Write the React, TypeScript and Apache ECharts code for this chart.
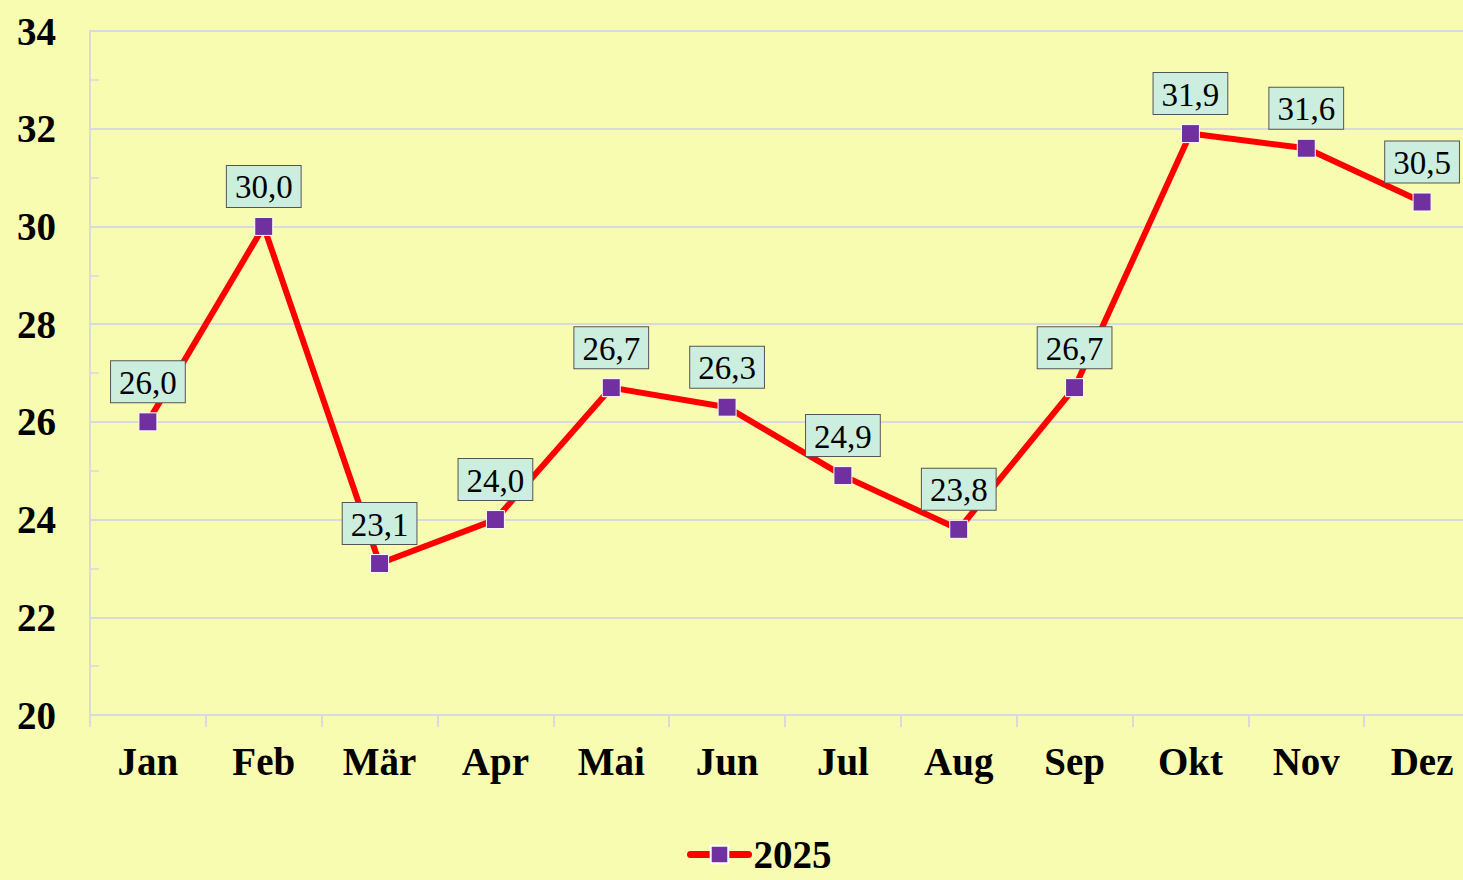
import React, { useEffect, useRef } from "react";
import * as echarts from "echarts";

const months = ["Jan", "Feb", "Mär", "Apr", "Mai", "Jun", "Jul", "Aug", "Sep", "Okt", "Nov", "Dez"];
const values2025 = [26.0, 30.0, 23.1, 24.0, 26.7, 26.3, 24.9, 23.8, 26.7, 31.9, 31.6, 30.5];
const seriesName = "2025";
const yMin = 20;
const yMax = 34;
const yInterval = 2;

const serif = "'Liberation Serif', 'Times New Roman', serif";

export default function App() {
  const ref = useRef<HTMLDivElement>(null);
  useEffect(() => {
    if (!ref.current) return;
    const chart = echarts.init(ref.current, undefined, { renderer: "svg" });
    chart.setOption({
      animation: false,
      backgroundColor: "#F8FCB0",
      grid: { left: 90, top: 31, height: 684, width: 1390, outerBoundsMode: "none" },
      legend: {
        left: 687,
        top: 835,
        padding: 0,
        itemWidth: 58,
        itemHeight: 22,
        itemGap: 4,
        data: [seriesName],
        lineStyle: { width: 7, cap: "round" },
        textStyle: { fontFamily: serif, fontWeight: "bold", fontSize: 39, color: "#000" },
      },
      xAxis: {
        type: "category",
        data: months,
        boundaryGap: true,
        axisLine: { show: true, lineStyle: { color: "#D9D9E0", width: 2 } },
        axisTick: { show: true, length: 12, lineStyle: { color: "#D9D9E0", width: 2 } },
        axisLabel: {
          margin: 27,
          fontFamily: serif,
          fontWeight: "bold",
          fontSize: 39,
          color: "#000",
        },
        splitLine: { show: false },
      },
      yAxis: {
        type: "value",
        min: yMin,
        max: yMax,
        interval: yInterval,
        axisLine: { show: true, lineStyle: { color: "#D9D9E0", width: 2 } },
        axisTick: { show: true, inside: true, length: 9, lineStyle: { color: "#D9D9E0", width: 2 } },
        minorTick: { show: true, splitNumber: 2, length: 9, lineStyle: { color: "#D9D9E0", width: 1.5 } },
        splitLine: { show: true, lineStyle: { color: "#D9D9E0", width: 2 } },
        axisLabel: {
          margin: 34,
          fontFamily: serif,
          fontWeight: "bold",
          fontSize: 39,
          color: "#000",
        },
      },
      series: [
        {
          name: seriesName,
          type: "line",
          data: values2025,
          symbol: "rect",
          symbolSize: 18,
          lineStyle: { color: "#FF0000", width: 6 },
          itemStyle: { color: "#7030A0", borderColor: "#FFFFFF", borderWidth: 1 },
          label: {
            show: true,
            position: "top",
            distance: 10,
            formatter: (p: any) => Number(p.value).toFixed(1).replace(".", ","),
            fontFamily: serif,
            fontSize: 33,
            color: "#000",
            backgroundColor: "#CCEEDF",
            borderColor: "#555555",
            borderWidth: 1,
            padding: [5, 8, 3, 8],
          },
        },
      ],
    });
    return () => chart.dispose();
  }, []);
  return <div ref={ref} style={{ position: "absolute", left: 0, top: 0, width: 1463, height: 880 }} />;
}
